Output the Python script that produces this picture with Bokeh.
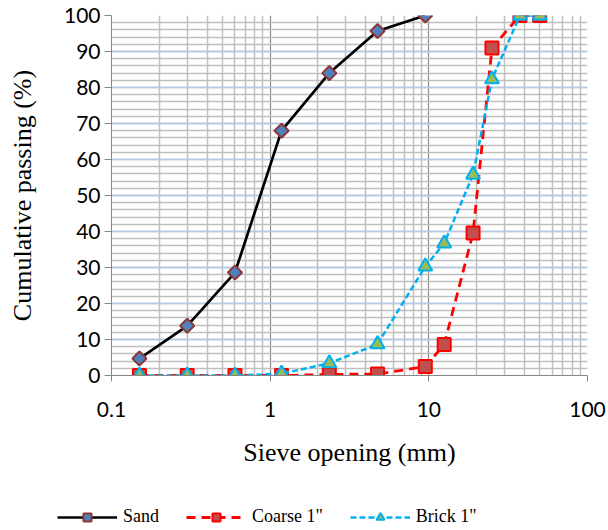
from bokeh.plotting import figure
from bokeh.layouts import column
from bokeh.models import (Range1d, FixedTicker, CustomJSTickFormatter, SingleIntervalTicker,
                          Legend, LegendItem)
from bokeh.embed import file_html
from bokeh.resources import INLINE
import numpy as np

# ---- data ----
sieve_sand = [0.15, 0.3, 0.6, 1.18, 2.36, 4.75, 9.5]
sand = [4.7, 13.8, 28.6, 68.0, 84.0, 95.7, 100.0]

sieve_agg = [0.15, 0.3, 0.6, 1.18, 2.36, 4.75, 9.5, 12.5, 19.0, 25.0, 37.5, 50.0]
coarse = [0.0, 0.0, 0.0, 0.0, 0.3, 0.4, 2.5, 8.6, 39.6, 91.0, 100.0, 100.0]
brick = [0.0, 0.0, 0.0, 0.5, 3.4, 8.7, 30.3, 36.7, 55.8, 82.3, 100.0, 100.0]

series_names = ["Sand", 'Coarse 1"', 'Brick 1"']
x_ticks = [0.1, 1, 10, 100]
x_tick_labels = ["0.1", "1", "10", "100"]
x_minor = [m * d for d in [0.1, 1, 10] for m in range(2, 10)]

TICK_FONT = "Lato"
SERIF = "Liberation Serif"

STYLES = [
    dict(line=dict(line_color="black", line_width=2.7),
         mark=dict(marker="square", angle=np.pi / 4, size=10, fill_color="#4f81bd",
                   line_color="#8c3836", line_width=2)),
    dict(line=dict(line_color="#ff0000", line_width=2.8, line_dash="9 6"),
         mark=dict(marker="square", size=13, fill_color="#c0504d",
                   line_color="#ff0000", line_width=2)),
    dict(line=dict(line_color="#00b0f0", line_width=2.5, line_dash="6 3"),
         mark=dict(marker="triangle", size=14, fill_color="#9bbb59",
                   line_color="#00b0f0", line_width=2)),
]

p = figure(width=608, height=490, x_axis_type="log", output_backend="svg",
           toolbar_location=None, x_range=Range1d(0.1, 100), y_range=Range1d(0, 100),
           min_border_left=111, min_border_right=21, min_border_top=15, min_border_bottom=115)
p.outline_line_color = None
p.background_fill_color = "white"
p.border_fill_color = "white"
p.frame_align = False

# x axis
xa = p.xaxis[0]
xa.ticker = FixedTicker(ticks=x_ticks, minor_ticks=x_minor)
xa.formatter = CustomJSTickFormatter(args=dict(t=x_ticks, l=x_tick_labels),
                                     code="for (let i=0;i<t.length;i++){if (Math.abs(t[i]-tick)<1e-9) return l[i];} return '';")
xa.axis_label = "Sieve opening (mm)"
xa.axis_label_text_font = SERIF
xa.axis_label_text_font_size = "26px"
xa.axis_label_text_font_style = "normal"
xa.axis_label_text_color = "black"
xa.axis_label_standoff = 18
xa.major_label_text_font = TICK_FONT
xa.major_label_text_font_size = "21px"
xa.major_label_text_color = "black"
xa.major_label_standoff = 20
xa.axis_line_color = "#868686"
xa.major_tick_line_color = "#868686"
xa.major_tick_out = 6
xa.major_tick_in = 0
xa.minor_tick_line_color = None

# y axis
ya = p.yaxis[0]
ya.ticker = SingleIntervalTicker(interval=10, num_minor_ticks=5)
ya.axis_label = "Cumulative passing (%)"
ya.axis_label_text_font = SERIF
ya.axis_label_text_font_size = "26px"
ya.axis_label_text_font_style = "normal"
ya.axis_label_text_color = "black"
ya.axis_label_standoff = 24
ya.major_label_text_font = TICK_FONT
ya.major_label_text_font_size = "21px"
ya.major_label_text_color = "black"
ya.major_label_standoff = 4
ya.axis_line_color = "#868686"
ya.major_tick_line_color = "#868686"
ya.major_tick_out = 7
ya.major_tick_in = 0
ya.minor_tick_line_color = None

# grids
p.xgrid.grid_line_color = "#8c8c8c"
p.xgrid.grid_line_width = 1.2
p.xgrid.minor_grid_line_color = "#bfbfbf"
p.xgrid.minor_grid_line_width = 1.5
p.ygrid.grid_line_color = "#b4c7e7"
p.ygrid.grid_line_width = 1.5
p.ygrid.minor_grid_line_color = "#bfbfbf"
p.ygrid.minor_grid_line_width = 1.5

# series
xs = [sieve_sand, sieve_agg, sieve_agg]
ys = [sand, coarse, brick]
for x, y, st in zip(xs, ys, STYLES):
    p.line(x, y, **st["line"])
    p.scatter(x, y, **st["mark"])

# legend strip (separate figure so it is not clipped)
leg = figure(width=608, height=40, output_backend="svg", toolbar_location=None,
             x_range=Range1d(0, 1), y_range=Range1d(0, 1),
             x_axis_location=None, y_axis_location=None,
             min_border_left=0, min_border_right=0, min_border_top=0, min_border_bottom=0)
leg.outline_line_color = None
leg.xgrid.visible = False
leg.ygrid.visible = False
leg.frame_align = False
items = []
for name, st in zip(series_names, STYLES):
    lr = leg.line([-5, -4], [-5, -4], **st["line"])
    sr = leg.scatter([-5], [-5], **st["mark"])
    items.append(LegendItem(label=name, renderers=[lr, sr]))
legend = Legend(items=items, orientation="horizontal", location=(57, 3),
                glyph_width=60, glyph_height=20, label_standoff=6, spacing=27,
                padding=0, margin=0, border_line_color=None, background_fill_alpha=0,
                label_text_font=SERIF, label_text_font_size="18px", label_text_color="black")
leg.add_layout(legend, "center")

layout = column(p, leg, spacing=0)
open("out.html", "w").write(file_html(layout, INLINE))
